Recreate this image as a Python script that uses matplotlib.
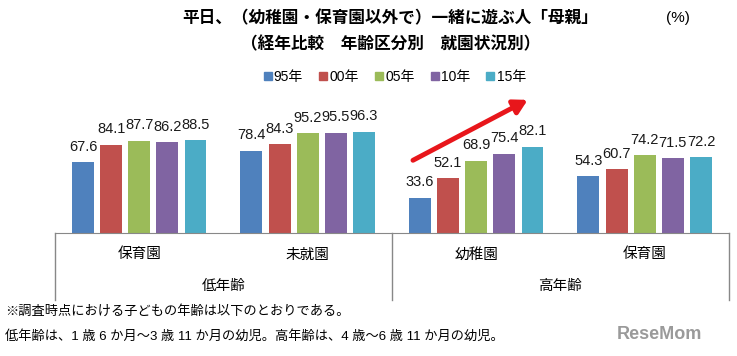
import numpy as np
import matplotlib.pyplot as plt
from matplotlib.lines import Line2D

plt.rcParams['font.family'] = ['Liberation Sans', 'Noto Sans CJK JP']

# data
years = ['95年', '00年', '05年', '10年', '15年']
categories = ['保育園', '未就園', '幼稚園', '保育園']
age_groups = ['低年齢', '高年齢']
values = [
    [67.6, 78.4, 33.6, 54.3],   # 95年
    [84.1, 84.3, 52.1, 60.7],   # 00年
    [87.7, 95.2, 68.9, 74.2],   # 05年
    [86.2, 95.5, 75.4, 71.5],   # 10年
    [88.5, 96.3, 82.1, 72.2],   # 15年
]
colors = ['#4F81BD', '#C0504D', '#9BBB59', '#8064A2', '#4BACC6']

fig = plt.figure(figsize=(7.37, 3.56), dpi=100)
ax = fig.add_axes([0.0746, 0.3455, 0.9145, 0.354])

x = np.arange(len(categories))
step = 0.167
width = 0.13
for i, (yr, vals) in enumerate(zip(years, values)):
    pos = x + (i - 2) * step
    ax.bar(pos, vals, width, color=colors[i], zorder=2)
    for px, v in zip(pos, vals):
        ax.text(px, v + 8, f'{v:.1f}', ha='center', va='bottom',
                fontsize=10.5, color='#1a1a1a', clip_on=False)

ax.set_xlim(-0.5, len(categories) - 0.5)
ax.set_ylim(0, 120)
ax.set_xticks([])
ax.set_yticks([])
for s in ['top', 'right', 'left']:
    ax.spines[s].set_visible(False)
ax.spines['bottom'].set_color('#888888')

# category box below the axis
tr = ax.get_xaxis_transform()
for xv in [-0.5, 1.5, 3.5]:
    ax.plot([xv, xv], [0, -0.53], color='#888888', lw=1, transform=tr, clip_on=False)
for xi, c in zip(x, categories):
    ax.text(xi, -0.17, c, ha='center', va='center', fontsize=10.5, transform=tr)
for gi, g in enumerate(age_groups):
    ax.text(0.5 + 2 * gi, -0.42, g, ha='center', va='center', fontsize=10.5, transform=tr)

# arrow
ax.annotate('', xy=(2.32, 128), xytext=(1.61, 68),
            arrowprops=dict(arrowstyle='-|>,head_width=0.45,head_length=0.8',
                            color='#E8161B', lw=3.5),
            annotation_clip=False)

# titles
fig.text(0.53, 0.95, '平日、（幼稚園・保育園以外で）一緒に遊ぶ人「母親」',
         ha='center', va='center', fontsize=12, fontweight='bold')
fig.text(0.53, 0.875, '（経年比較　年齢区分別　就園状況別）',
         ha='center', va='center', fontsize=12, fontweight='bold')
fig.text(0.92, 0.95, '(%)', ha='center', va='center', fontsize=11)

handles = [Line2D([], [], marker='s', linestyle='', color=c, markersize=6) for c in colors]
fig.legend(handles, years, loc='center', bbox_to_anchor=(0.535, 0.785), ncol=5,
           frameon=False, fontsize=10, handlelength=0.7, handletextpad=0.1,
           columnspacing=1.1)

# footnote
fig.text(0.007, 0.125, '※調査時点における子どもの年齢は以下のとおりである。',
         ha='left', va='center', fontsize=9.5)
fig.text(0.007, 0.055, '低年齢は、1 歳 6 か月～3 歳 11 か月の幼児。高年齢は、4 歳～6 歳 11 か月の幼児。',
         ha='left', va='center', fontsize=9.5)
fig.text(0.895, 0.06, 'ReseMom', ha='center', va='center', fontsize=13,
         fontweight='bold', color='#9a9a9a')

fig.savefig('out.png', dpi=100)
